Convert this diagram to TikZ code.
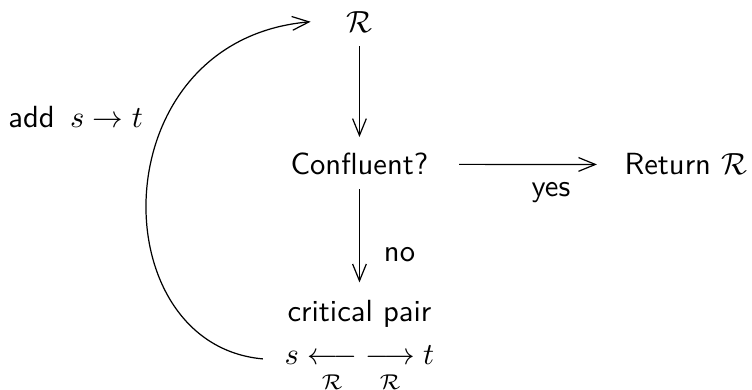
\documentclass[tikz,border=0pt]{standalone}
\usepackage{amsmath,amssymb}
\usepackage{tikz}
\usetikzlibrary{arrows.meta}

\begin{document}
\begin{tikzpicture}[>={Straight Barb[length=5.5pt,width=4.5pt]}, every node/.style={font=\sffamily}, lbl/.style={anchor=base}]
\useasboundingbox (0,0) rectangle (8.64,4.47);
\node[lbl] (R) at (4.13,4.10) {$\mathcal{R}$};
\node[lbl] (conf) at (4.13,2.46) {Confluent?}; \node[lbl] (ret) at (7.88,2.46) {Return $\mathcal{R}$};
\node[lbl] (crit) at (4.13,0.78) {critical pair};
\node[lbl] (pair) at (4.13,0.28) {$s \underset{\mathcal{R}\rule{0pt}{6.5pt}}{\longleftarrow} \; \underset{\mathcal{R}\rule{0pt}{6.5pt}}{\longrightarrow} t$};
\node[lbl] (add) at (0.87,3.00) {add \,$s \rightarrow t$};
\node[lbl] (yes) at (6.33,2.21) {yes}; \node[lbl] (no) at (4.59,1.46) {no};
\draw[->, shorten <=1pt, shorten >=1.8pt] (R) -- (conf);
\draw[->, shorten <=6.5pt, shorten >=5.5pt] (conf) -- (ret);
\draw[->, shorten <=1pt, shorten >=2.2pt] (conf) -- (crit);
\draw[->] ([xshift=-3.6pt,yshift=3.4pt]pair.west) .. controls (1.15,0.51) and (1.15,4.01) .. ([xshift=-8.2pt]R.west);
\end{tikzpicture}
\end{document}
